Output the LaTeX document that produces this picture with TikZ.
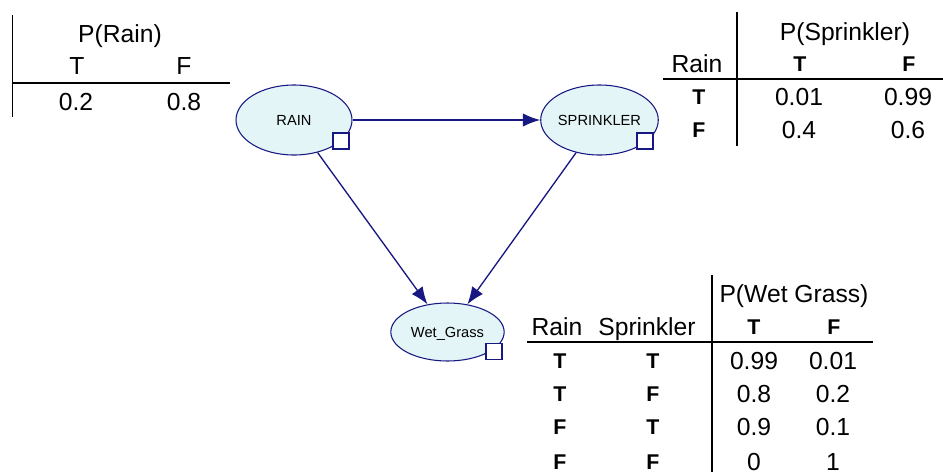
\documentclass[tikz,border=0pt]{standalone}
\usepackage{fontspec}
\setmainfont{Liberation Sans}
\usetikzlibrary{shapes.geometric,arrows.meta}

\definecolor{netblue}{RGB}{24,24,130}
\definecolor{nodefill}{RGB}{228,245,247}

\tikzset{
  bnnode/.style={ellipse,draw=netblue,fill=nodefill,line width=0.8pt,inner sep=0pt,
    minimum width=87pt,minimum height=52.5pt,text height=8pt,text depth=0pt,
    font=\fontsize{11}{13}\selectfont},
  flag/.style={rectangle,draw=netblue,fill=white,line width=0.8pt,minimum size=12pt,inner sep=0pt},
  link/.style={-{Latex[length=13pt,width=10pt]},draw=netblue,line width=1pt},
  cpt/.style={inner sep=0pt,text height=13.2pt,text depth=0pt,font=\fontsize{18.5}{20}\selectfont},
  tf/.style={inner sep=0pt,text height=11.5pt,text depth=0pt,font=\fontsize{16}{18}\selectfont\bfseries},
  rule/.style={line width=1pt}
}

\begin{document}
\begin{tikzpicture}[x=0.75pt,y=-0.75pt]
\useasboundingbox (0,0) rectangle (943,472);

% network
\node[bnnode] (rain) at (294,120) {RAIN};
\node[bnnode] (sprinkler) at (599.5,120) {SPRINKLER};
\node[bnnode,minimum width=85pt,minimum height=43.5pt] (wet) at (447.5,332) {Wet\_Grass};
\node[flag] (rainflag) at (341,141) {};
\node[flag] (sprinklerflag) at (645,141) {};
\node[flag] (wetflag) at (494,351.5) {};
\draw[link] (rain) -- (sprinkler);
\draw[link] (rain) -- (wet);
\draw[link] (sprinkler) -- (wet);

% P(Rain)
\draw[rule] (12.5,15) -- (12.5,117);
\draw[rule] (12,83) -- (230,83);
\node[cpt] (prain) at (120,34) {P(Rain)};
\node[cpt] (prainT) at (77,66) {T};
\node[cpt] (prainF) at (184,66) {F};
\node[cpt] (prainTv) at (76,102) {0.2};
\node[cpt] (prainFv) at (184,102) {0.8};

% P(Sprinkler)
\draw[rule] (737,12) -- (737,146);
\draw[rule] (663,79) -- (943,79);
\node[cpt] (psprk) at (845,32) {P(Sprinkler)};
\node[cpt] (psprkrain) at (697,64) {Rain};
\node[tf] (psprkT) at (800,64) {T};
\node[tf] (psprkF) at (909,64) {F};
\foreach \y/\r/\p/\q [count=\i] in {97/T/0.01/0.99, 130/F/0.4/0.6}{
  \node[tf] (sr\i) at (699,\y) {\r};
  \node[cpt] (sp\i) at (799,\y) {\p};
  \node[cpt] (sq\i) at (908,\y) {\q};
}

% P(Wet Grass)
\draw[rule] (712,275) -- (712,472);
\draw[rule] (527,342) -- (873,342);
\node[cpt] (pwet) at (794,294) {P(Wet Grass)};
\node[cpt] (pwetrain) at (557,327) {Rain};
\node[cpt] (pwetsprk) at (647,327) {Sprinkler};
\node[tf] (pwetT) at (754,327) {T};
\node[tf] (pwetF) at (834,327) {F};
\foreach \y/\a/\b/\p/\q [count=\i] in {361/T/T/0.99/0.01, 394/T/F/0.8/0.2, 427/F/T/0.9/0.1, 462/F/F/0/1}{
  \node[tf] (wa\i) at (560,\y) {\a};
  \node[tf] (wb\i) at (653,\y) {\b};
  \node[cpt] (wp\i) at (754,\y) {\p};
  \node[cpt] (wq\i) at (833,\y) {\q};
}
\end{tikzpicture}
\end{document}
